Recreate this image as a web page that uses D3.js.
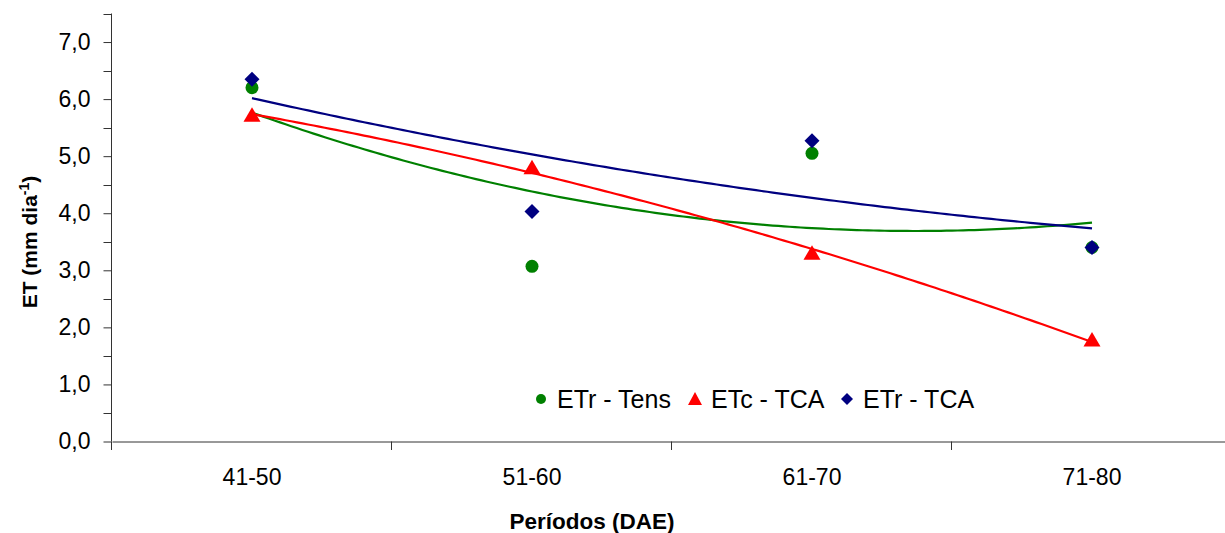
<!DOCTYPE html>
<html><head><meta charset="utf-8">
<script src="https://cdn.jsdelivr.net/npm/d3@7"></script>
<style>body{margin:0;background:#fff}svg{display:block}text{font-family:"Liberation Sans",Arial,sans-serif}</style>
</head><body><svg id="c" width="1225" height="533"></svg>
<script>
const categories = ["41-50","51-60","61-70","71-80"];
const etrTens = [6.20, 3.07, 5.05, 3.40];
const etcTCA  = [5.71, 4.79, 3.29, 1.77];
const etrTCA  = [6.35, 4.03, 5.27, 3.40];
const yTicks = [0,1,2,3,4,5,6,7];
const yMinor = [0.5,1.5,2.5,3.5,4.5,5.5,6.5,7.5];
const seriesNames = ["ETr - Tens","ETc - TCA","ETr - TCA"];
const colors = ["#008000","#FF0000","#000080"];

const svg = d3.select("#c");
const x = d3.scaleBand().domain(categories).range([112,1232]).padding(0);
const y = d3.scaleLinear().domain([0,7.5]).range([441.5,13.5]);
const fmt = v => d3.format(".1f")(v).replace(".",",");

// y axis
const ya = svg.append("g").attr("transform","translate(111.5,0)")
  .call(d3.axisLeft(y).tickValues(yTicks).tickFormat(fmt).tickSize(8).tickPadding(13));
ya.select(".domain").attr("stroke","#333").attr("d","M0,"+y(7.5)+"V"+y(0));
ya.selectAll("line").attr("stroke","#333");
ya.selectAll("text").attr("font-size",23).attr("fill","#000").attr("font-family","Liberation Sans, Arial");
svg.append("g").selectAll("line").data(yMinor).join("line")
  .attr("x1",103.5).attr("x2",111.5).attr("y1",d=>Math.round(y(d))+0.5).attr("y2",d=>Math.round(y(d))+0.5).attr("stroke","#333");

// x axis
const xa = svg.append("g").attr("transform","translate(0,441.5)")
  .call(d3.axisBottom(x).tickSize(0).tickPadding(27));
xa.select(".domain").attr("stroke","#333");
xa.selectAll("text").attr("font-size",23).attr("fill","#000").attr("font-family","Liberation Sans, Arial");
const bounds = categories.map(c=>x(c));
svg.append("g").selectAll("line").data(bounds).join("line")
  .attr("x1",d=>Math.round(d)-0.5).attr("x2",d=>Math.round(d)-0.5).attr("y1",441.5).attr("y2",450).attr("stroke","#333");

// quadratic trendlines (least-squares from data)
function quadFit(vals){
  const xs=vals.map((v,i)=>i+1);
  let S=[0,0,0,0,0], T=[0,0,0];
  xs.forEach((xv,i)=>{for(let k=0;k<5;k++)S[k]+=Math.pow(xv,k);for(let k=0;k<3;k++)T[k]+=vals[i]*Math.pow(xv,k);});
  const A=[[S[0],S[1],S[2]],[S[1],S[2],S[3]],[S[2],S[3],S[4]]];
  const det=m=>m[0][0]*(m[1][1]*m[2][2]-m[1][2]*m[2][1])-m[0][1]*(m[1][0]*m[2][2]-m[1][2]*m[2][0])+m[0][2]*(m[1][0]*m[2][1]-m[1][1]*m[2][0]);
  const D=det(A);
  const c=[0,1,2].map(j=>{const M=A.map((r,i)=>r.map((v,k)=>k===j?T[i]:v));return det(M)/D;});
  return t=>c[0]+c[1]*t+c[2]*t*t;
}
const allSeries=[etrTens,etcTCA,etrTCA];
const cx = i => x(categories[i]) + x.bandwidth()/2;
const line = d3.line().x(d=>d[0]).y(d=>d[1]);
allSeries.forEach((s,si)=>{
  const f=quadFit(s);
  const pts=d3.range(1,4.0001,0.02).map(t=>[cx(0)+(t-1)*x.bandwidth(), y(f(t))]);
  svg.append("path").attr("d",line(pts)).attr("fill","none").attr("stroke",colors[si]).attr("stroke-width",2.2);
});

// markers
function marker(g,type,color){
  if(type===0) g.append("circle").attr("r",6.5).attr("fill",color);
  else if(type===1) g.append("path").attr("d","M0,-8.5L8.5,6L-8.5,6Z").attr("fill",color);
  else g.append("path").attr("d","M0,-7.5L7.5,0L0,7.5L-7.5,0Z").attr("fill",color);
}
allSeries.forEach((s,si)=>{
  s.forEach((v,i)=>{
    const g=svg.append("g").attr("transform",`translate(${cx(i)},${y(v)})`);
    marker(g,si,colors[si]);
  });
});

// legend
const legX=[541,695,847];
seriesNames.forEach((n,i)=>{
  const g=svg.append("g").attr("transform",`translate(${legX[i]},399)`);
  if(i===0) g.append("circle").attr("r",5).attr("fill",colors[i]);
  else if(i===1) g.append("path").attr("d","M0,-7L7,6L-7,6Z").attr("fill",colors[i]);
  else g.append("path").attr("d","M0,-6L6,0L0,6L-6,0Z").attr("fill",colors[i]);
  g.append("text").attr("x",16).attr("y",8.5).attr("font-size",25).text(n);
});

// axis titles
svg.append("text").attr("x",592).attr("y",529).attr("text-anchor","middle").attr("font-size",22.5).attr("font-weight","bold").text("Períodos (DAE)");
const yt=svg.append("text").attr("transform","translate(37,242) rotate(-90)").attr("text-anchor","middle").attr("font-size",21).attr("font-weight","bold");
yt.append("tspan").text("ET (mm dia");
yt.append("tspan").attr("dy",-8).attr("font-size",14).text("-1");
yt.append("tspan").attr("dy",8).text(")");
</script></body></html>
